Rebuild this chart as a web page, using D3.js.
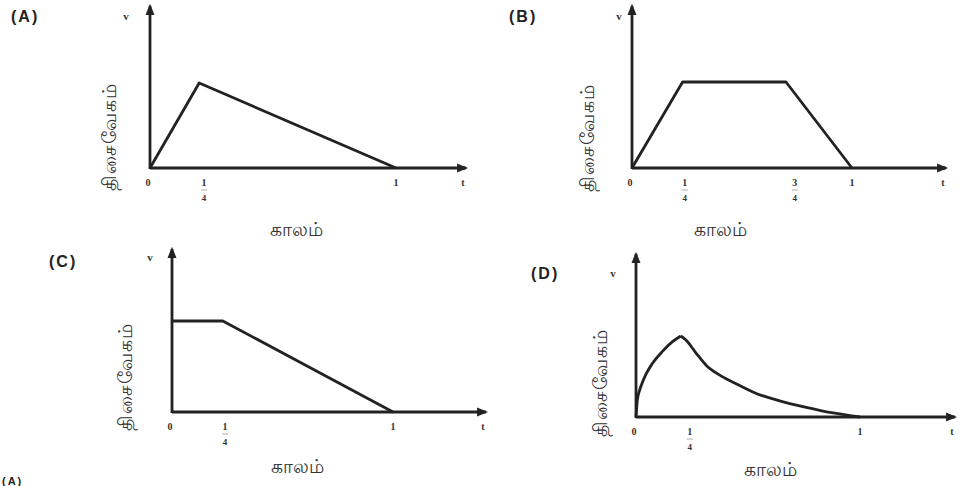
<!DOCTYPE html>
<html>
<head>
<meta charset="utf-8">
<script src="https://cdn.jsdelivr.net/npm/d3@7"></script>
<style>
  html, body { margin: 0; padding: 0; background: #fff; }
  svg { display: block; }
  .panel-tag { font: bold 16px "Liberation Sans", Arial, sans-serif; fill: #222; letter-spacing: 2px; }
  .tick-lbl { font: bold 10px "Liberation Serif", serif; fill: #333; }
  .axis-name { font: 19px "Noto Sans", "DejaVu Sans", sans-serif; fill: #333; }
</style>
</head>
<body>
<div id="chart"></div>
<script>
// panel names and axis texts
const panelNames = ["(A)", "(B)", "(C)", "(D)"];
const yTitle = "திசைவேகம்";
const xTitle = "காலம்";

// velocity-time points [t, v] (peak v = 1, t = 1 at the "1" tick)
const seriesA = [[0, 0], [0.2, 1], [1, 0]];
const seriesB = [[0, 0], [0.23, 1], [0.7, 1], [1, 0]];
const seriesC = [[0, 1], [0.23, 1], [1, 0]];
// D: rising curve then decaying curve
const seriesDUp = [[0, 0], [0.006, 0.21], [0.021, 0.37], [0.043, 0.52], [0.073, 0.66],
                   [0.118, 0.81], [0.163, 0.93], [0.2, 1]];
const seriesDDown = [[0.2, 1], [0.223, 0.95], [0.268, 0.79], [0.313, 0.64], [0.372, 0.52],
                     [0.44, 0.42], [0.537, 0.29], [0.641, 0.2], [0.76, 0.12], [0.88, 0.05], [1, 0]];

// tick positions and their labels (numerator / denominator)
const ticksA = [[0, "0"], [0.22, "1", "4"], [1, "1"]];
const ticksB = [[0, "0"], [0.24, "1", "4"], [0.74, "3", "4"], [1, "1"]];
const ticksC = [[0, "0"], [0.24, "1", "4"], [1, "1"]];
const ticksD = [[0, "0"], [0.24, "1", "4"], [1, "1"]];

const width = 964, height = 486;

const svg = d3.select("#chart").append("svg")
    .attr("width", width)
    .attr("height", height);

// panel layout: origin (ox, oy), pixels for t = 1 and v = 1, axis extents
const panels = [
  { tag: panelNames[0], ox: 150, oy: 168, tw: 246, vh: 85, xEnd: 466, yTop: 6,
    tagX: 11, tagY: 22, vX: 126, vY: 20, yLblX: 109, yLblY: 137, xLblX: 296, xLblY: 236,
    lines: [seriesA], ticks: ticksA },
  { tag: panelNames[1], ox: 632, oy: 168, tw: 220, vh: 86, xEnd: 946, yTop: 6,
    tagX: 509, tagY: 22, vX: 619, vY: 20, yLblX: 587, yLblY: 138, xLblX: 720, xLblY: 236,
    lines: [seriesB], ticks: ticksB },
  { tag: panelNames[2], ox: 172, oy: 412, tw: 221, vh: 91, xEnd: 486, yTop: 249,
    tagX: 49, tagY: 267, vX: 150, vY: 261, yLblX: 125, yLblY: 377, xLblX: 297, xLblY: 473,
    lines: [seriesC], ticks: ticksC },
  { tag: panelNames[3], ox: 636, oy: 417, tw: 224, vh: 81, xEnd: 955, yTop: 254,
    tagX: 531, tagY: 279, vX: 613, vY: 277, yLblX: 600, yLblY: 383, xLblX: 770, xLblY: 476,
    lines: [seriesDUp, seriesDDown], ticks: ticksD, smooth: true }
];

// arrowhead marker
svg.append("defs").append("marker")
    .attr("id", "arrow")
    .attr("viewBox", "0 0 10 10")
    .attr("refX", 8).attr("refY", 5)
    .attr("markerWidth", 4).attr("markerHeight", 4)
    .attr("orient", "auto")
  .append("path")
    .attr("d", "M0,1 L10,5 L0,9 Z")
    .attr("fill", "#222");

panels.forEach(p => {
  const x = d3.scaleLinear().domain([0, 1]).range([p.ox, p.ox + p.tw]);
  const y = d3.scaleLinear().domain([0, 1]).range([p.oy, p.oy - p.vh]);
  const g = svg.append("g");

  // axes with arrows
  g.append("line")
      .attr("x1", x(0)).attr("y1", y(0))
      .attr("x2", p.xEnd).attr("y2", y(0))
      .attr("stroke", "#222").attr("stroke-width", 2.8)
      .attr("marker-end", "url(#arrow)");
  g.append("line")
      .attr("x1", x(0)).attr("y1", y(0) + 1)
      .attr("x2", x(0)).attr("y2", p.yTop)
      .attr("stroke", "#222").attr("stroke-width", 2.8)
      .attr("marker-end", "url(#arrow)");

  // data lines
  const line = d3.line()
      .x(d => x(d[0]))
      .y(d => y(d[1]))
      .curve(p.smooth ? d3.curveMonotoneX : d3.curveLinear);

  g.selectAll("path.v")
    .data(p.lines)
    .join("path")
      .attr("class", "v")
      .attr("d", line)
      .attr("fill", "none")
      .attr("stroke", "#222")
      .attr("stroke-width", 2.8)
      .attr("stroke-linejoin", "round");

  // tick labels
  const tk = g.selectAll("g.tk")
    .data(p.ticks)
    .join("g")
      .attr("class", "tk")
      .attr("transform", d => `translate(${x(d[0]) - (d[0] === 0 ? 2 : 0)},${y(0)})`);

  tk.append("text")
      .attr("class", "tick-lbl")
      .attr("y", 18)
      .attr("text-anchor", "middle")
      .text(d => d[1]);

  tk.filter(d => d[2])
    .append("line")
      .attr("x1", -3).attr("x2", 3)
      .attr("y1", 22).attr("y2", 22)
      .attr("stroke", "#888").attr("stroke-width", 0.7);

  tk.filter(d => d[2])
    .append("text")
      .attr("class", "tick-lbl")
      .attr("y", 33)
      .attr("text-anchor", "middle")
      .style("font-size", "9px")
      .text(d => d[2]);

  // "t" at the end of the time axis
  g.append("text")
      .attr("class", "tick-lbl")
      .attr("x", p.xEnd - 3).attr("y", y(0) + 18)
      .attr("text-anchor", "middle")
      .text("t");

  // "v" next to the velocity axis
  g.append("text")
      .attr("class", "tick-lbl")
      .attr("x", p.vX).attr("y", p.vY)
      .attr("text-anchor", "middle")
      .style("font-size", "11px")
      .text("v");

  // panel tag
  g.append("text")
      .attr("class", "panel-tag")
      .attr("x", p.tagX).attr("y", p.tagY)
      .text(p.tag);

  // axis titles
  g.append("text")
      .attr("class", "axis-name")
      .attr("text-anchor", "middle")
      .attr("letter-spacing", 1)
      .attr("transform", `translate(${p.yLblX + 7},${p.yLblY}) rotate(-90)`)
      .text(yTitle);

  g.append("text")
      .attr("class", "axis-name")
      .attr("x", p.xLblX).attr("y", p.xLblY)
      .attr("text-anchor", "middle")
      .text(xTitle);
});

// start of the next line of the page, at the bottom edge
svg.append("text")
    .attr("class", "panel-tag")
    .attr("x", 2).attr("y", 485)
    .style("font-size", "11px")
    .text(panelNames[0]);
</script>
</body>
</html>
